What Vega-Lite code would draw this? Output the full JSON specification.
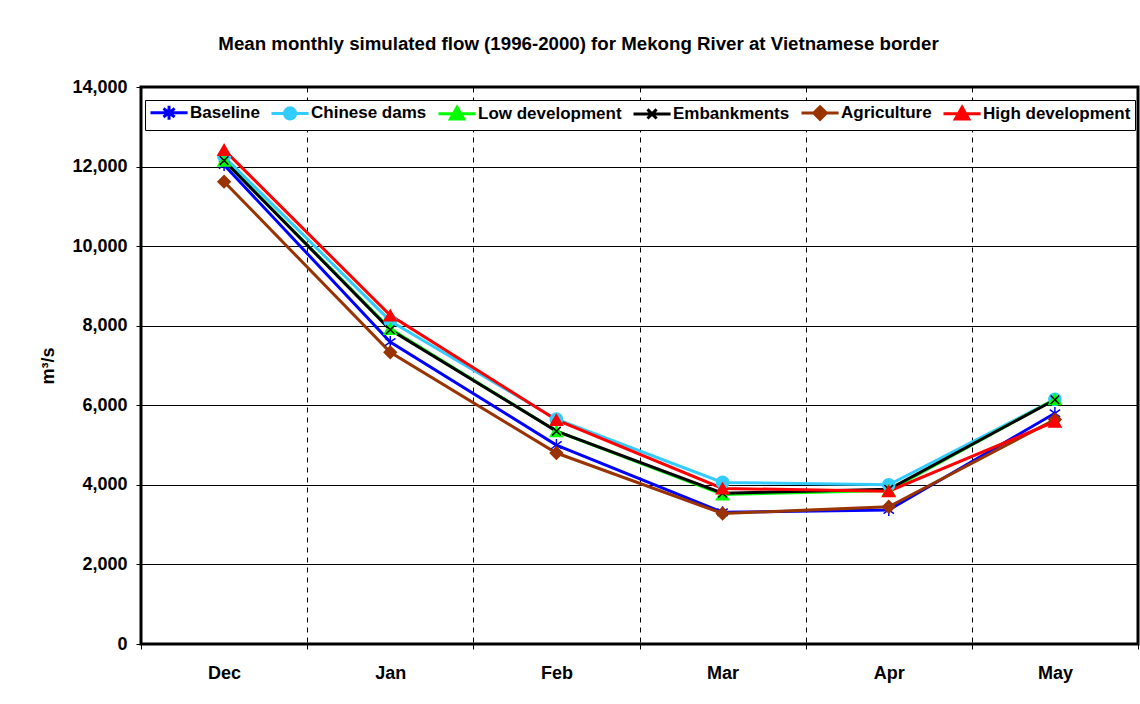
{
  "$schema": "https://vega.github.io/schema/vega-lite/v6.json",
  "width": 997,
  "height": 557,
  "autosize": {"type": "none"},
  "padding": {"left": 141, "top": 87, "right": 2, "bottom": 60},
  "title": {
    "text": "Mean monthly simulated flow (1996-2000) for Mekong River at Vietnamese border",
    "font": "Liberation Sans",
    "fontSize": 18.7,
    "fontWeight": "bold",
    "color": "black",
    "anchor": "middle",
    "dx": -61,
    "offset": 24
  },
  "data": {
    "values": [
      {"month": "Dec", "series": "Baseline", "value": 12040},
      {"month": "Jan", "series": "Baseline", "value": 7590},
      {"month": "Feb", "series": "Baseline", "value": 5000},
      {"month": "Mar", "series": "Baseline", "value": 3310},
      {"month": "Apr", "series": "Baseline", "value": 3370},
      {"month": "May", "series": "Baseline", "value": 5800},
      {"month": "Dec", "series": "Chinese dams", "value": 12250},
      {"month": "Jan", "series": "Chinese dams", "value": 8120},
      {"month": "Feb", "series": "Chinese dams", "value": 5650},
      {"month": "Mar", "series": "Chinese dams", "value": 4060},
      {"month": "Apr", "series": "Chinese dams", "value": 4000},
      {"month": "May", "series": "Chinese dams", "value": 6150},
      {"month": "Dec", "series": "Low development", "value": 12150},
      {"month": "Jan", "series": "Low development", "value": 7920},
      {"month": "Feb", "series": "Low development", "value": 5350},
      {"month": "Mar", "series": "Low development", "value": 3760},
      {"month": "Apr", "series": "Low development", "value": 3860},
      {"month": "May", "series": "Low development", "value": 6150},
      {"month": "Dec", "series": "Embankments", "value": 12150},
      {"month": "Jan", "series": "Embankments", "value": 7900},
      {"month": "Feb", "series": "Embankments", "value": 5350},
      {"month": "Mar", "series": "Embankments", "value": 3790},
      {"month": "Apr", "series": "Embankments", "value": 3890},
      {"month": "May", "series": "Embankments", "value": 6140},
      {"month": "Dec", "series": "Agriculture", "value": 11620},
      {"month": "Jan", "series": "Agriculture", "value": 7330},
      {"month": "Feb", "series": "Agriculture", "value": 4800},
      {"month": "Mar", "series": "Agriculture", "value": 3280},
      {"month": "Apr", "series": "Agriculture", "value": 3450},
      {"month": "May", "series": "Agriculture", "value": 5640},
      {"month": "Dec", "series": "High development", "value": 12420},
      {"month": "Jan", "series": "High development", "value": 8260},
      {"month": "Feb", "series": "High development", "value": 5630},
      {"month": "Mar", "series": "High development", "value": 3910},
      {"month": "Apr", "series": "High development", "value": 3840},
      {"month": "May", "series": "High development", "value": 5590}
    ]
  },
  "encoding": {
    "x": {
      "field": "month",
      "type": "ordinal",
      "sort": ["Dec", "Jan", "Feb", "Mar", "Apr", "May"],
      "scale": {"type": "band", "paddingInner": 0, "paddingOuter": 0},
      "axis": {
        "title": null,
        "labelAngle": 0,
        "tickBand": "extent",
        "grid": true,
        "gridDash": [5, 5],
        "gridColor": "black",
        "gridWidth": 1,
        "gridOpacity": 1,
        "domain": false,
        "ticks": true,
        "tickColor": "black",
        "tickSize": 5,
        "labelFont": "Liberation Sans",
        "labelFontSize": 18,
        "labelFontWeight": "bold",
        "labelColor": "black",
        "labelPadding": 15
      }
    },
    "y": {
      "field": "value",
      "type": "quantitative",
      "scale": {"domain": [0, 14000], "nice": false},
      "axis": {
        "title": "m³/s",
        "values": [0, 2000, 4000, 6000, 8000, 10000, 12000, 14000],
        "format": ",.0f",
        "grid": true,
        "gridColor": "black",
        "gridWidth": 1,
        "gridOpacity": 1,
        "domain": false,
        "tickColor": "black",
        "tickSize": 5,
        "labelFont": "Liberation Sans",
        "labelFontSize": 18,
        "labelFontWeight": "bold",
        "labelColor": "black",
        "labelPadding": 9,
        "titleFont": "Liberation Sans",
        "titleFontSize": 18,
        "titleFontWeight": "bold",
        "titleColor": "black",
        "titlePadding": 14
      }
    }
  },
  "layer": [
    {
      "mark": {"type": "line", "strokeWidth": 3},
      "encoding": {
        "color": {
          "field": "series",
          "type": "nominal",
          "scale": {
            "domain": ["Baseline", "Chinese dams", "Low development", "Embankments", "Agriculture", "High development"],
            "range": ["#0000ff", "#33ccff", "#00ff00", "#000000", "#993300", "#ff0000"]
          },
          "legend": null
        }
      }
    },
    {
      "mark": {"type": "point", "size": 150, "strokeWidth": 1.5, "opacity": 1},
      "encoding": {
        "fill": {
          "field": "series",
          "type": "nominal",
          "scale": {
            "domain": ["Baseline", "Chinese dams", "Low development", "Embankments", "Agriculture", "High development"],
            "range": ["#0000ff", "#33ccff", "#00ff00", "#000000", "#993300", "#ff0000"]
          },
          "legend": null
        },
        "stroke": {
          "field": "series",
          "type": "nominal",
          "scale": {
            "domain": ["Baseline", "Chinese dams", "Low development", "Embankments", "Agriculture", "High development"],
            "range": ["#0000ff", "#33ccff", "#00ff00", "#000000", "#993300", "#ff0000"]
          },
          "legend": null
        },
        "shape": {
          "field": "series",
          "type": "nominal",
          "scale": {
            "domain": ["Baseline", "Chinese dams", "Low development", "Embankments", "Agriculture", "High development"],
            "range": [
              "M0,-1V1M-0.85,-0.6L0.85,0.6M-0.85,0.6L0.85,-0.6",
              "circle",
              "triangle-up",
              "M-0.7,-0.7L0.7,0.7M-0.7,0.7L0.7,-0.7",
              "diamond",
              "triangle-up"
            ]
          },
          "legend": null
        }
      }
    },
    {
      "transform": [{"filter": "datum.value < 0"}],
      "mark": {"type": "point", "size": 196, "strokeWidth": 3, "opacity": 1},
      "encoding": {
        "fill": {
          "field": "series",
          "type": "nominal",
          "scale": {
            "domain": ["Baseline", "Chinese dams", "Low development", "Embankments", "Agriculture", "High development"],
            "range": ["#0000ff", "#33ccff", "#00ff00", "#000000", "#993300", "#ff0000"]
          },
          "legend": {"title": null}
        },
        "stroke": {
          "field": "series",
          "type": "nominal",
          "scale": {
            "domain": ["Baseline", "Chinese dams", "Low development", "Embankments", "Agriculture", "High development"],
            "range": ["#0000ff", "#33ccff", "#00ff00", "#000000", "#993300", "#ff0000"]
          },
          "legend": {"title": null}
        },
        "shape": {
          "field": "series",
          "type": "nominal",
          "scale": {
            "domain": ["Baseline", "Chinese dams", "Low development", "Embankments", "Agriculture", "High development"],
            "range": [
              "M-1,0H4.3M1.65,-1V1M0.85,-0.6L2.45,0.6M0.85,0.6L2.45,-0.6",
              "M-1,0H4.3M0.85,0A0.8,0.8,0,1,0,2.45,0A0.8,0.8,0,1,0,0.85,0Z",
              "M-1,0H4.3M1.65,-0.9L2.6,0.75L0.7,0.75Z",
              "M-1,0H4.3M1.0,-0.65L2.3,0.65M1.0,0.65L2.3,-0.65",
              "M-1,0H4.3M1.65,-0.9L2.55,0L1.65,0.9L0.75,0Z",
              "M-1,0H4.3M1.65,-0.9L2.6,0.75L0.7,0.75Z"
            ]
          },
          "legend": {"title": null}
        }
      }
    }
  ],
  "resolve": {
    "scale": {"fill": "independent", "stroke": "independent", "shape": "independent"},
    "legend": {"fill": "independent", "stroke": "independent", "shape": "independent"}
  },
  "config": {
    "view": {"stroke": "black", "strokeWidth": 3},
    "legend": {
      "orient": "none",
      "legendX": 4,
      "legendY": 13,
      "direction": "horizontal",
      "fillColor": "white",
      "strokeColor": "black",
      "padding": 4,
      "labelFont": "Liberation Sans",
      "labelFontSize": 17,
      "labelFontWeight": "bold",
      "labelColor": "black",
      "symbolSize": 196,
      "symbolStrokeWidth": 3,
      "symbolOpacity": 1,
      "columnPadding": 5,
      "labelOffset": 24
    }
  }
}
